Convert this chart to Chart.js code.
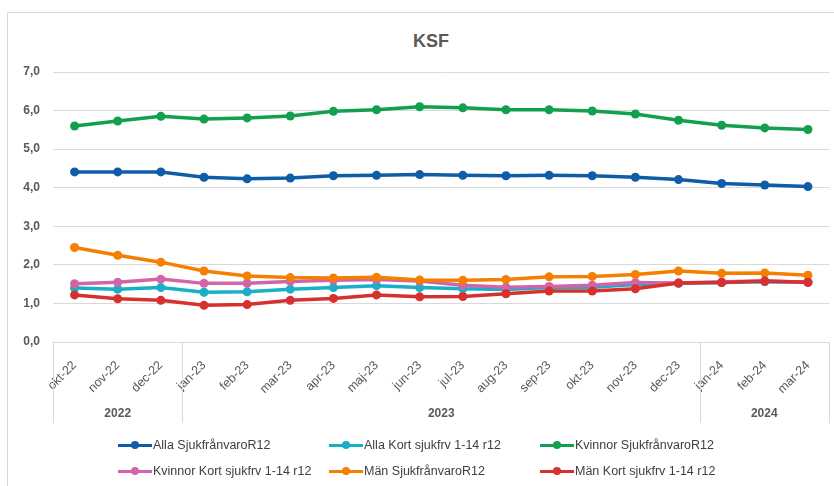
<!DOCTYPE html>
<html>
<head>
<meta charset="utf-8">
<script src="https://cdn.jsdelivr.net/npm/chart.js@4"></script>
<style>
    body { margin: 0; background: #fff; width: 834px; height: 486px; overflow: hidden; position: relative; font-family: 'Liberation Sans', Arial, sans-serif; }
    .box { position: absolute; left: 7px; top: 12px; width: 900px; height: 600px; border: 1px solid #d9d9d9; }
    #wrap { position: absolute; left: 0; top: 0; width: 834px; height: 486px; }
    .title { position: absolute; left: 331px; width: 200px; top: 31px; text-align: center; font-size: 18px; font-weight: bold; color: #595959; }
    .legend { position: absolute; left: 118px; top: 432px; display: grid; grid-template-columns: 211px 211px 211px; grid-auto-rows: 26px; }
    .legend div { display: flex; align-items: center; font-size: 12.5px; color: #404040; white-space: nowrap; }
    .mk { position: relative; width: 34px; height: 10px; margin-right: 1px; flex: none; }
    .mk i { position: absolute; left: 0; right: 0; top: 3.5px; height: 3px; }
    .mk b { position: absolute; left: 13px; top: 1px; width: 8px; height: 8px; border-radius: 50%; }
</style>
</head>
<body>
<div class="box"></div>
<div class="title">KSF</div>
<div id="wrap"><canvas id="chart"></canvas></div>
<div class="legend" id="legend"></div>
<script>
// Månader och år
const months = ['okt-22', 'nov-22', 'dec-22', 'jan-23', 'feb-23', 'mar-23', 'apr-23', 'maj-23', 'jun-23',
    'jul-23', 'aug-23', 'sep-23', 'okt-23', 'nov-23', 'dec-23', 'jan-24', 'feb-24', 'mar-24'];
const years = ['2022', '2023', '2024'];
const yearCounts = [3, 12, 3];

// Serier
const allaR12 = [4.41, 4.41, 4.41, 4.27, 4.23, 4.25, 4.31, 4.32, 4.34, 4.32, 4.31, 4.32, 4.31, 4.27, 4.21, 4.11, 4.07, 4.03];
const allaKort = [1.40, 1.37, 1.41, 1.29, 1.30, 1.37, 1.41, 1.46, 1.41, 1.38, 1.36, 1.41, 1.42, 1.49, 1.52, 1.54, 1.56, 1.55];
const kvinnorR12 = [5.60, 5.73, 5.85, 5.78, 5.81, 5.86, 5.98, 6.02, 6.10, 6.07, 6.02, 6.02, 5.99, 5.91, 5.75, 5.62, 5.55, 5.51];
const kvinnorKort = [1.51, 1.55, 1.63, 1.52, 1.52, 1.57, 1.60, 1.62, 1.58, 1.47, 1.42, 1.44, 1.47, 1.54, 1.53, 1.56, 1.58, 1.55];
const manR12 = [2.45, 2.25, 2.07, 1.84, 1.71, 1.67, 1.66, 1.68, 1.61, 1.60, 1.62, 1.69, 1.70, 1.75, 1.84, 1.78, 1.79, 1.73];
const manKort = [1.22, 1.12, 1.08, 0.95, 0.97, 1.08, 1.13, 1.22, 1.17, 1.18, 1.25, 1.32, 1.32, 1.38, 1.53, 1.54, 1.58, 1.55];

const series = [
    { label: 'Alla SjukfrånvaroR12', data: allaR12, color: '#0f5ca8' },
    { label: 'Alla Kort sjukfrv 1-14 r12', data: allaKort, color: '#19afc6' },
    { label: 'Kvinnor SjukfrånvaroR12', data: kvinnorR12, color: '#12a04f' },
    { label: 'Kvinnor Kort sjukfrv 1-14 r12', data: kvinnorKort, color: '#d264a8' },
    { label: 'Män SjukfrånvaroR12', data: manR12, color: '#f47f00' },
    { label: 'Män Kort sjukfrv 1-14 r12', data: manKort, color: '#d6302f' }
];

const textColor = '#595959';
const gridColor = '#d9d9d9';

// Årsgrupper under månadsetiketterna
const yearGroups = {
    id: 'yearGroups',
    afterDraw(chart) {
        const x = chart.scales.x;
        const ctx = chart.ctx;
        const top = chart.chartArea.bottom;
        const bottom = top + 81;
        const bounds = [x.left];
        let idx = 0;
        yearCounts.forEach((n, i) => {
            idx += n;
            if (i < yearCounts.length - 1) {
                bounds.push((x.getPixelForTick(idx - 1) + x.getPixelForTick(idx)) / 2);
            }
        });
        bounds.push(x.right - 1);
        ctx.save();
        ctx.strokeStyle = gridColor;
        ctx.lineWidth = 1;
        bounds.forEach(b => {
            ctx.beginPath();
            ctx.moveTo(Math.round(b) + 0.5, top);
            ctx.lineTo(Math.round(b) + 0.5, bottom);
            ctx.stroke();
        });
        ctx.fillStyle = textColor;
        ctx.font = 'bold 12px "Liberation Sans", Arial, sans-serif';
        ctx.textAlign = 'center';
        ctx.textBaseline = 'middle';
        years.forEach((y, i) => {
            ctx.fillText(y, (bounds[i] + bounds[i + 1]) / 2, bottom - 9);
        });
        ctx.restore();
    }
};

const chart = new Chart(document.getElementById('chart'), {
    type: 'line',
    data: {
        labels: months,
        datasets: series.map((s, i) => ({
            label: s.label,
            data: s.data,
            borderColor: s.color,
            backgroundColor: s.color,
            borderWidth: 3.5,
            pointRadius: 4.5,
            pointBorderWidth: 0,
            pointHoverRadius: 4.5,
            tension: 0,
            order: series.length - i
        }))
    },
    options: {
        responsive: true,
        maintainAspectRatio: false,
        animation: false,
        layout: { padding: { left: 0, right: 2, top: 72, bottom: 64 } },
        scales: {
            x: {
                offset: true,
                grid: { display: false },
                border: { display: false },
                ticks: {
                    color: textColor,
                    font: { size: 12.5, family: '"Liberation Sans", Arial, sans-serif' },
                    maxRotation: 45,
                    minRotation: 45,
                    autoSkip: false,
                    padding: 8
                },
                afterFit(scale) { scale.height = 80; }
            },
            y: {
                min: 0,
                max: 7,
                grid: { color: gridColor, drawTicks: false },
                border: { display: false },
                ticks: {
                    stepSize: 1,
                    color: textColor,
                    padding: 13,
                    font: { size: 12, weight: 'bold', family: '"Liberation Sans", Arial, sans-serif' },
                    callback: v => v.toFixed(1).replace('.', ',')
                },
                afterFit(scale) { scale.width = 53; }
            }
        },
        plugins: {
            legend: { display: false },
            tooltip: { enabled: false }
        }
    },
    plugins: [yearGroups]
});

// Legend som i Excel, tre kolumner
const legend = document.getElementById('legend');
series.forEach(s => {
    const item = document.createElement('div');
    item.innerHTML = `<span class="mk"><i style="background:${s.color}"></i><b style="background:${s.color}"></b></span>${s.label}`;
    legend.appendChild(item);
});
</script>
</body>
</html>
